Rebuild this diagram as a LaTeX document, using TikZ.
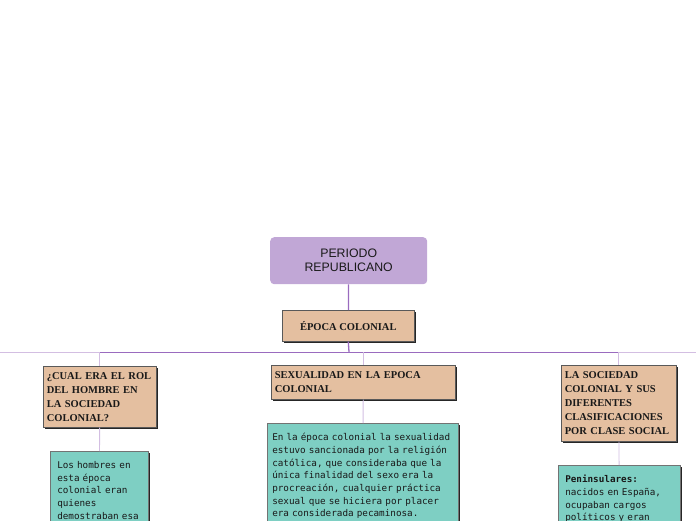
\documentclass[tikz,border=0pt]{standalone}
\usepackage{fontspec}
\setmainfont{Liberation Serif}
\setmonofont{DejaVu Sans Mono}
\newfontfamily\raizfont{Liberation Sans}
\usetikzlibrary{shadows}

\definecolor{lila}{HTML}{C1A7D6}
\definecolor{cafe}{HTML}{E4BFA0}
\definecolor{menta}{HTML}{7ECFC3}
\definecolor{lineaoscura}{HTML}{9A6BBF}
\definecolor{lineaclara}{HTML}{D3BEE2}

\tikzset{
  raiz/.style={fill=lila, rounded corners=4pt, anchor=north west, align=center,
    minimum width=157pt, minimum height=47pt, text=black!90,
    font=\raizfont\fontsize{12.3}{14}\selectfont},
  tema/.style={fill=cafe, draw=black!65, line width=0.6pt, anchor=north west,
    align=left, inner xsep=3.5pt, inner ysep=3pt, text=black!90,
    drop shadow={shadow xshift=1.6pt, shadow yshift=-1.6pt, fill=black!85, opacity=1},
    font=\bfseries\fontsize{10.5}{14}\selectfont},
  nota/.style={fill=menta, draw=black!55, line width=0.5pt, anchor=north west,
    align=left, inner xsep=7pt, inner ysep=10pt, text=black!90,
    drop shadow={shadow xshift=1.6pt, shadow yshift=-1.6pt, fill=black!85, opacity=1},
    font=\ttfamily\fontsize{9.3}{12.7}\selectfont},
  troncal/.style={lineaoscura, line width=1.3pt},
  puente/.style={lineaoscura, line width=0.8pt},
  rama/.style={lineaclara, line width=0.9pt}
}

\begin{document}
\begin{tikzpicture}[x=1pt,y=-1pt]
 \useasboundingbox (0,0) rectangle (696,520);
 \clip (0,0) rectangle (696,520);
 % cabecera
 \node[raiz] (periodo) at (270,237) {PERIODO\\REPUBLICANO};
 \node[tema, minimum width=132pt, minimum height=31pt, align=center] (epoca) at (282,310) {ÉPOCA COLONIAL};
 % temas
 \node[tema, text width=106pt, minimum height=61pt] (rol) at (43,366)
   {¿CUAL ERA EL ROL\\DEL HOMBRE EN\\LA SOCIEDAD\\COLONIAL?};
 \node[tema, text width=177pt, minimum height=34pt] (sexo) at (271,365)
   {SEXUALIDAD EN LA EPOCA\\COLONIAL};
 \node[tema, text width=108pt, minimum height=76pt] (clase) at (561,365)
   {LA SOCIEDAD\\COLONIAL Y SUS\\DIFERENTES\\CLASIFICACIONES\\POR CLASE SOCIAL};
 % notas (cortadas por el borde inferior)
 \node[nota, text width=84pt] (rolnota) at (50,451)
   {Los hombres en\\esta época\\colonial eran\\quienes\\demostraban esa\\\mbox{}\\\mbox{}};
 \node[nota, inner xsep=5pt, text width=181pt] (sexonota) at (267,423)
   {En la época colonial la sexualidad\\estuvo sancionada por la religión\\católica, que consideraba que la\\única finalidad del sexo era la\\procreación, cualquier práctica\\sexual que se hiciera por placer\\era considerada pecaminosa.\\\mbox{}};
 \node[nota, text width=108pt] (clasenota) at (558,465)
   {\textbf{Peninsulares:}\\nacidos en España,\\ocupaban cargos\\políticos y eran\\\mbox{}\\\mbox{}};
 % conectores
 \coordinate (centro) at (349,352);
 \coordinate (izq) at (0,352);
 \coordinate (der) at (696,352);
 \draw[troncal] (periodo) -- (epoca);
 \draw[troncal] (epoca.south) -- (centro);
 \draw[rama] (izq) -- (centro -| rol.north);
 \draw[rama] (centro -| clase.north) -- (der);
 \draw[puente] (centro -| rol.north) -- (centro -| clase.north);
 \draw[rama] (centro -| rol.north) -- (rol.north);
 \draw[rama] (centro -| sexo.north) -- (sexo.north);
 \draw[rama] (centro -| clase.north) -- (clase.north);
 \draw[rama] (rol) -- (rolnota);
 \draw[rama] (sexo) -- (sexonota);
 \draw[rama] (clase) -- (clasenota);
\end{tikzpicture}
\end{document}
